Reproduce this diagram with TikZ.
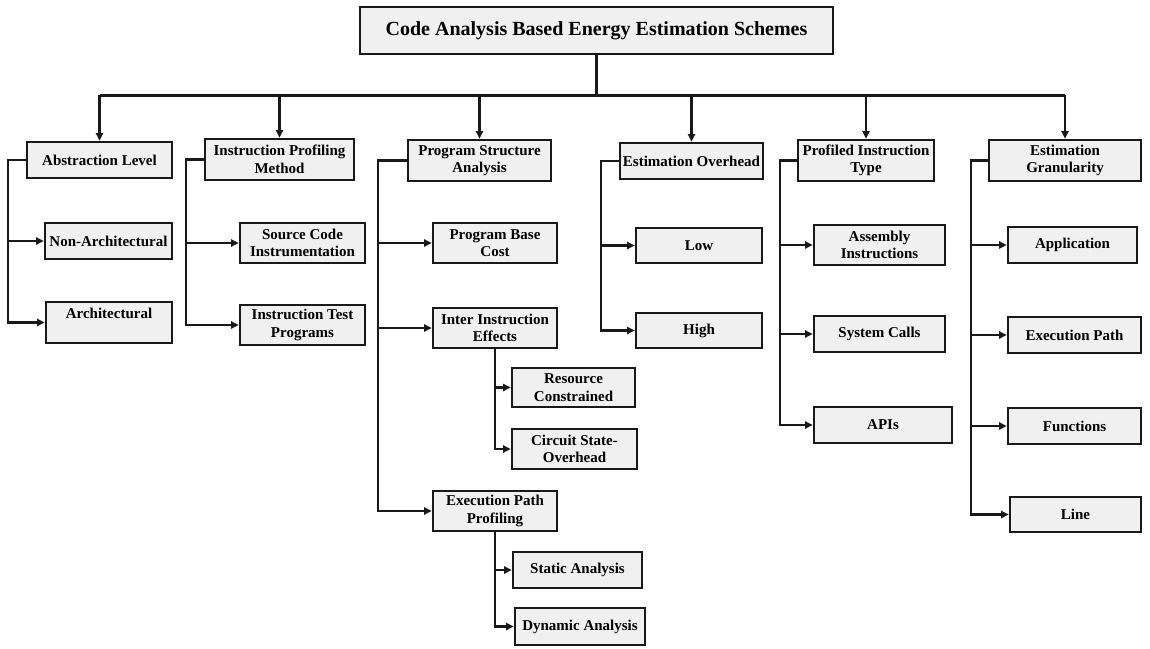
\documentclass[tikz,border=0pt]{standalone}
\usepackage{fontspec}
\setmainfont{Liberation Serif}
\usetikzlibrary{arrows.meta}

\begin{document}
\begin{tikzpicture}[x=1pt,y=-1pt,
  box/.style={draw=black!90, line width=2.6pt, fill=black!6, inner sep=0pt,
    align=center, font=\fontsize{15}{17.5}\selectfont\bfseries},
  rootbox/.style={box, font=\fontsize{20}{24}\selectfont\bfseries},
  link/.style={draw=black!90, line width=2.4pt},
  arr/.style={link, -{Triangle[length=7.5pt,width=7pt]}}]
\useasboundingbox (0,0) rectangle (1150,648);

% box placed by its corners: x1, y1, x2, y2
\newcommand\boxat[6][box]{%
  \node[#1, minimum width={#5-#3}, minimum height={#6-#4}]
    (#2) at ({(#3+#5)/2},{(#4+#6)/2})}

\boxat[rootbox]{root}{360}{7}{833}{54} {Code Analysis Based Energy Estimation Schemes};

% first level
\boxat{A}{27}{142}{172}{178} {Abstraction Level};
\boxat{B}{205}{139}{354}{180} {Instruction Profiling\\Method};
\boxat{C}{408}{140}{551}{181} {Program Structure\\Analysis};
\boxat{D}{620}{143}{763}{179} {Estimation Overhead};
\boxat{E}{798}{140}{934}{181} {Profiled Instruction\\Type};
\boxat{F}{989}{140}{1141}{181} {Estimation\\Granularity};

% abstraction level
\boxat{A1}{45}{223}{172}{259} {Non-Architectural};
\boxat{A2}{46}{302}{172}{343} {Architectural\\\phantom{X}};

% instruction profiling method
\boxat{B1}{240}{223}{365}{263} {Source Code\\Instrumentation};
\boxat{B2}{240}{305}{365}{345} {Instruction Test\\Programs};

% program structure analysis
\boxat{C1}{433}{223}{557}{263} {Program Base\\Cost};
\boxat{C2}{433}{308}{557}{348} {Inter Instruction\\Effects};
\boxat{C21}{512}{368}{635}{407} {Resource\\Constrained};
\boxat{C22}{512}{429}{637}{469} {Circuit State-\\Overhead};
\boxat{C3}{433}{491}{557}{531} {Execution Path\\Profiling};
\boxat{C31}{513}{552}{642}{588} {Static Analysis};
\boxat{C32}{515}{608}{645}{645} {Dynamic Analysis};

% estimation overhead
\boxat{D1}{636}{228}{762}{263} {Low};
\boxat{D2}{636}{313}{762}{348} {High};

% profiled instruction type
\boxat{E1}{814}{225}{945}{265} {Assembly\\Instructions};
\boxat{E2}{814}{316}{945}{352} {System Calls};
\boxat{E3}{814}{407}{952}{443} {APIs};

% estimation granularity
\boxat{F1}{1008}{227}{1137}{263} {Application};
\boxat{F2}{1008}{317}{1141}{353} {Execution Path};
\boxat{F3}{1008}{408}{1141}{444} {Functions};
\boxat{F4}{1010}{497}{1141}{532} {Line};

% root bus
\draw[link] (root.south) -- ++(0,40) coordinate (bus);
\draw[link] (A.north |- bus) -- (F.north |- bus);
\foreach \n in {A,B,C,D,E,F}
  \draw[arr] (\n.north |- bus) -- (\n.north);

% side branches
\foreach \p/\d/\kids in {A/18/{A1,A2}, B/18/{B1,B2}, C/29/{C1,C2,C3},
                        D/18/{D1,D2}, E/17/{E1,E2,E3}, F/17/{F1,F2,F3,F4}}
  \foreach \k in \kids
    \draw[arr] (\p.west) -- ++(-\d,0) |- (\k.west);

% sub-branches below a box
\foreach \p/\kids in {C2/{C21,C22}, C3/{C31,C32}}
  \foreach \k in \kids
    \draw[arr] (\p.south) |- (\k.west);
\end{tikzpicture}
\end{document}
